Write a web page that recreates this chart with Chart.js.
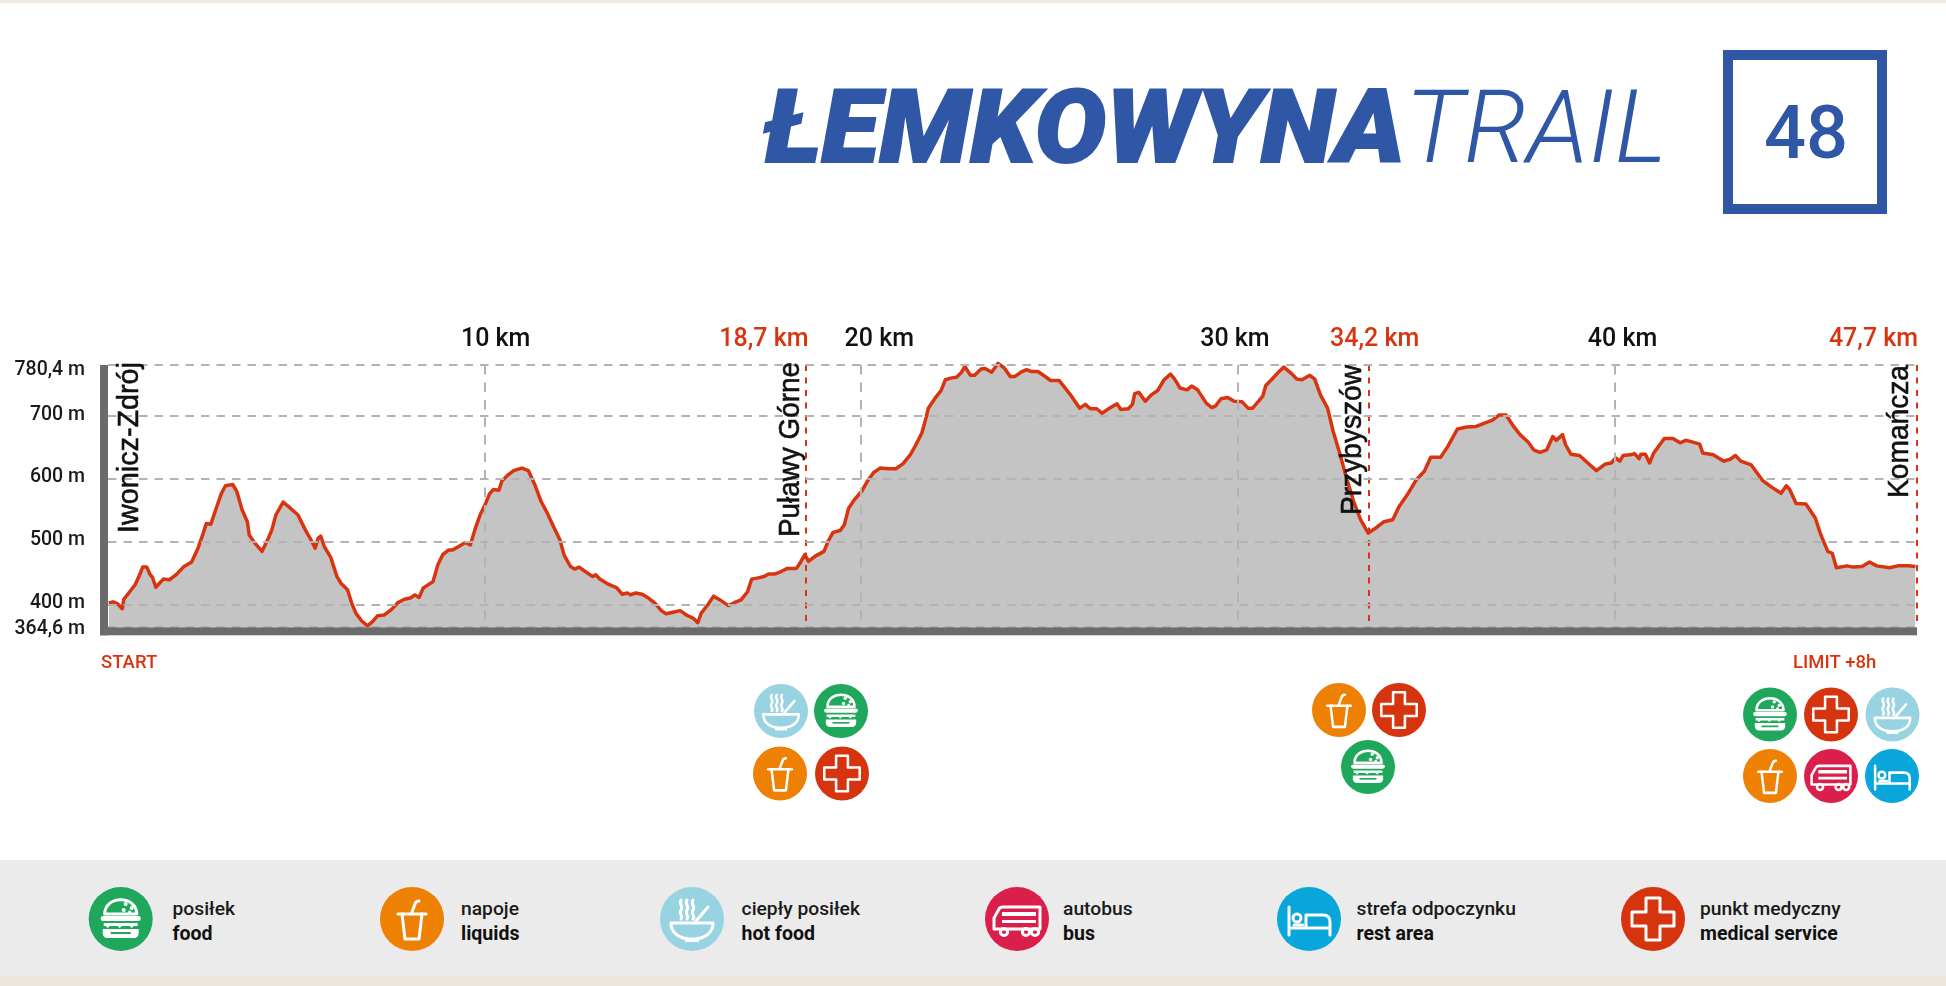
<!DOCTYPE html>
<html lang="pl">
<head>
<meta charset="utf-8">
<title>Łemkowyna Trail 48</title>
<script src="https://cdn.jsdelivr.net/npm/chart.js@4"></script>
<style>
    html, body { margin: 0; padding: 0; background: #fff; overflow: hidden; }
    #page { position: relative; width: 1946px; height: 986px; }
    #page svg, #page canvas { position: absolute; left: 0; top: 0; }
    .legendTop { font: 500 19.25px Roboto, sans-serif; fill: #1a1a1a; }
    .legendBottom { font: 700 19.5px Roboto, sans-serif; fill: #111; }
    .glyph { fill: none; stroke: #fff; stroke-width: 3; stroke-linecap: round; stroke-linejoin: round; }
    .solid { fill: #fff; stroke: none; }
</style>
</head>
<body>
<div id="page">
    <svg id="overlay" width="1946" height="986" viewBox="0 0 1946 986">
        <defs>
            <symbol id="burger" viewBox="0 0 64 64">
                <g transform="translate(0,-3)">
                    <path class="glyph" d="M16 30c0-19 32-19 32 0z"/>
                    <circle class="solid" cx="37" cy="20" r="2"/><circle class="solid" cx="43" cy="24" r="2"/>
                    <circle class="solid" cx="35" cy="26" r="2"/><circle class="solid" cx="41" cy="28" r="1.6"/>
                    <rect class="solid" x="12" y="32" width="40" height="5" rx="2.5"/>
                    <path class="solid" d="M15 39h34v3h-4l-2 2-2-2h-8l-2 2-2-2h-8l-2 2-2-2h-2z"/>
                    <path class="solid" d="M14 45h36v4c0 3-2 5-5 5H19c-3 0-5-2-5-5z"/>
                    <path d="M22 49h20" stroke="#1fa85c" stroke-width="2"/>
                </g>
            </symbol>
            <symbol id="cup" viewBox="0 0 64 64">
                <path class="glyph" d="M32 25l3-8q1-3 4-3"/>
                <path class="glyph" d="M18 27h28"/>
                <path class="glyph" d="M22 27l3 25h14l3-25"/>
            </symbol>
            <symbol id="bowl" viewBox="0 0 64 64">
                <path class="glyph" d="M21 13c-3 4 3 6 0 10s3 6 0 9M27 13c-3 4 3 6 0 10s3 6 0 9M33 13c-3 4 3 6 0 10s3 6 0 9" stroke-width="2"/>
                <path class="glyph" d="M36 34L48 20" stroke-width="4.5"/>
                <path class="glyph" d="M11 36h42c0 10-8 16-21 16S11 46 11 36z"/>
                <path class="solid" d="M25 52h14v3H25z"/>
            </symbol>
            <symbol id="bus" viewBox="0 0 64 64">
                <path class="glyph" d="M9 31l5-9q1-2 4-2h37v22H9z"/>
                <path class="solid" d="M17 25h34v4H17zM17 33h34v3H17z"/>
                <circle class="glyph" cx="19" cy="45" r="3.6"/>
                <circle class="glyph" cx="41" cy="45" r="3.6"/>
                <circle class="glyph" cx="50" cy="45" r="3.6"/>
            </symbol>
            <symbol id="bed" viewBox="0 0 64 64">
                <path class="glyph" d="M12 20v28M12 41h41v7M53 41v-6q0-7-7-7H29v13"/>
                <circle class="glyph" cx="20" cy="31" r="4" stroke-width="2.5"/>
                <path class="glyph" d="M17 38h9" stroke-width="2"/>
            </symbol>
            <symbol id="cross" viewBox="0 0 64 64">
                <path class="glyph" d="M25 11h14v14h14v14H39v14H25V39H11V25h14z" stroke-width="3.5"/>
            </symbol>
        </defs>

        <rect x="0" y="0" width="1946" height="3" fill="#efe9e1"/>
        <rect x="0" y="860" width="1946" height="116" fill="#ebebeb"/>
        <rect x="0" y="976" width="1946" height="10" fill="#ede6dd"/>

        <text x="763" y="162" textLength="642" lengthAdjust="spacingAndGlyphs" stroke="#2f57a6" stroke-width="2"
              font-family="Roboto" font-weight="900" font-style="italic" font-size="101" fill="#2f57a6">ŁEMKOWYNA</text>
        <text x="1405" y="162" textLength="262" lengthAdjust="spacingAndGlyphs"
              font-family="Roboto" font-weight="300" font-style="italic" font-size="101" fill="#2f57a6">TRAIL</text>
        <rect x="1728" y="55" width="154" height="154" fill="none" stroke="#2f57a6" stroke-width="10"/>
        <text x="1806" y="158" text-anchor="middle" font-family="Roboto" font-weight="500" font-size="74" fill="#2f57a6">48</text>
    </svg>
    <canvas id="profileChart" width="1946" height="986"></canvas>
</div>

<script>
// Elevation profile
const kmPoints = [
    0.02, 0.13, 0.25, 0.38, 0.42, 0.55, 0.72, 0.85, 0.92, 1.03, 1.12, 1.18, 1.27, 1.36, 1.47, 1.63, 1.81, 2.00, 2.22, 2.39,
    2.53, 2.61, 2.73, 2.86, 3.01, 3.12, 3.31, 3.42, 3.56, 3.70, 3.75, 3.90, 4.09, 4.26, 4.35, 4.46, 4.65, 4.85, 5.04, 5.24,
    5.41, 5.50, 5.58, 5.65, 5.74, 5.91, 6.08, 6.19, 6.36, 6.47, 6.58, 6.73, 6.89, 7.03, 7.16, 7.33, 7.53, 7.70, 7.87, 8.03,
    8.15, 8.26, 8.37, 8.63, 8.76, 8.89, 9.04, 9.15, 9.32, 9.49, 9.62, 9.74, 9.88, 9.99, 10.13, 10.23, 10.38, 10.46, 10.60, 10.77,
    10.99, 11.16, 11.33, 11.50, 11.66, 11.83, 12.00, 12.11, 12.28, 12.39, 12.51, 12.67, 12.87, 12.95, 13.06, 13.28, 13.51, 13.65, 13.79, 13.87,
    14.01, 14.18, 14.35, 14.52, 14.69, 14.82, 14.97, 15.19, 15.36, 15.54, 15.66, 15.75, 15.92, 16.08, 16.25, 16.47, 16.64, 16.81, 16.98, 17.09,
    17.26, 17.42, 17.54, 17.70, 17.87, 18.04, 18.28, 18.40, 18.50, 18.60, 18.77, 19.01, 19.12, 19.25, 19.44, 19.55, 19.66, 19.83, 20.01, 20.16,
    20.33, 20.50, 20.72, 20.92, 21.11, 21.30, 21.45, 21.61, 21.73, 21.78, 21.95, 22.12, 22.23, 22.40, 22.53, 22.65, 22.75, 22.90, 23.01, 23.18,
    23.29, 23.46, 23.63, 23.79, 23.96, 24.07, 24.24, 24.39, 24.52, 24.69, 24.91, 25.02, 25.25, 25.41, 25.58, 25.80, 25.95, 26.08, 26.25, 26.39,
    26.59, 26.79, 26.89, 27.09, 27.20, 27.26, 27.37, 27.54, 27.70, 27.87, 28.04, 28.21, 28.32, 28.46, 28.65, 28.77, 28.93, 29.16, 29.30, 29.40,
    29.55, 29.73, 29.90, 30.11, 30.27, 30.39, 30.55, 30.66, 30.74, 30.89, 31.06, 31.22, 31.40, 31.57, 31.70, 31.91, 32.04, 32.19, 32.38, 32.53,
    32.70, 32.87, 33.09, 33.26, 33.46, 33.66, 33.88, 34.11, 34.28, 34.50, 34.73, 34.95, 35.12, 35.38, 35.57, 35.83, 36.08, 36.33, 36.53, 36.76,
    36.93, 37.12, 37.32, 37.49, 37.71, 37.85, 38.02, 38.20, 38.36, 38.45, 38.62, 38.70, 38.84, 39.07, 39.29, 39.52, 39.74, 39.91, 40.03, 40.14,
    40.23, 40.42, 40.53, 40.65, 40.70, 40.82, 40.93, 41.04, 41.32, 41.55, 41.74, 41.89, 42.03, 42.26, 42.34, 42.62, 42.90, 43.07, 43.21, 43.35,
    43.63, 43.92, 44.14, 44.42, 44.56, 44.65, 44.82, 45.08, 45.33, 45.46, 45.66, 45.78, 45.89, 46.17, 46.34, 46.57, 46.77, 46.96, 47.30, 47.52,
    47.80, 47.99
];
const elevation = [
    403, 405, 402, 394, 409, 419, 432, 449, 460, 460, 448, 444, 428, 434, 441, 440, 448, 460, 468, 490,
    514, 529, 528, 551, 577, 589, 591, 580, 551, 532, 511, 498, 485, 506, 519, 543, 563, 553, 543, 519,
    501, 490, 506, 509, 493, 476, 445, 434, 424, 403, 387, 375, 367, 374, 383, 384, 393, 404, 409, 411,
    416, 412, 427, 437, 464, 480, 487, 487, 493, 499, 495, 519, 543, 556, 576, 583, 582, 597, 605, 613,
    617, 613, 591, 564, 546, 524, 503, 479, 461, 457, 460, 453, 445, 448, 441, 433, 427, 417, 419, 416,
    419, 417, 411, 403, 391, 386, 388, 391, 384, 379, 372, 387, 400, 414, 408, 399, 404, 408, 421, 441,
    443, 445, 449, 449, 453, 458, 458, 469, 480, 469, 477, 485, 501, 515, 518, 527, 553, 568, 580, 596,
    610, 617, 616, 616, 624, 638, 654, 673, 699, 712, 727, 740, 757, 760, 761, 768, 778, 764, 764, 774,
    775, 769, 783, 776, 762, 762, 769, 773, 770, 770, 761, 756, 756, 744, 731, 712, 718, 711, 711, 704,
    712, 719, 710, 711, 718, 735, 737, 723, 733, 740, 757, 766, 758, 744, 741, 747, 741, 720, 713, 715,
    727, 729, 723, 722, 712, 712, 723, 731, 748, 757, 768, 777, 768, 758, 757, 764, 758, 733, 712, 675,
    641, 604, 561, 535, 514, 522, 532, 535, 556, 575, 598, 612, 634, 634, 651, 679, 682, 683, 688, 693,
    701, 701, 683, 670, 658, 646, 642, 646, 667, 661, 670, 654, 639, 637, 625, 613, 623, 625, 633, 628,
    637, 638, 640, 632, 639, 639, 625, 641, 664, 664, 657, 661, 659, 655, 641, 638, 628, 631, 637, 628,
    622, 598, 588, 577, 589, 583, 561, 560, 538, 514, 485, 482, 459, 462, 460, 461, 468, 462, 459, 462,
    462, 461
];

// Axis ticks; the marker lines sit a little off their labels in the original
const elevationTicks = [364.6, 400, 500, 600, 700, 780.4];
const elevationLabels = ['364,6 m', '400 m', '500 m', '600 m', '700 m', '780,4 m'];
const kmTicks = [10, 18.53, 20, 30, 33.47, 40, 48.03];
const kmLabels = ['10 km', '18,7 km', '20 km', '30 km', '34,2 km', '40 km', '47,7 km'];
const checkpointLabels = ['18,7 km', '34,2 km', '47,7 km'];

// Place names written along the marker lines
const stationNames = ['Iwonicz-Zdrój', 'Puławy Górne', 'Przybyszów', 'Komańcza'];

// Service icons per stop, then the legend
const legendIcons = ['burger', 'cup', 'bowl', 'bus', 'bed', 'cross'];
const legendTop = ['posiłek', 'napoje', 'ciepły posiłek', 'autobus', 'strefa odpoczynku', 'punkt medyczny'];
const legendBottom = ['food', 'liquids', 'hot food', 'bus', 'rest area', 'medical service'];

const RED = '#d9340f';
const GREY = '#b3b3b3';
const BAR = '#6b6b6b';

const iconColors = { burger: '#1fa85c', cup: '#ee8003', bowl: '#97d3e0', bus: '#d91f4a', bed: '#09a6dc', cross: '#d5340f' };

// Page positions for things outside the chart
const legendIconX = [120.7, 412, 692, 1017, 1309, 1653];
const legendTextX = [172.5, 461, 741.6, 1063, 1356.5, 1700];
const stopIcons = [
    ['bowl', 781, 711], ['burger', 841, 711], ['cup', 780, 773.5], ['cross', 842, 773.5],
    ['cup', 1339, 710], ['cross', 1399, 710], ['burger', 1368, 767],
    ['burger', 1770, 714.5], ['cross', 1831, 714.5], ['bowl', 1892.5, 714.5],
    ['cup', 1770, 776], ['bus', 1831, 776], ['bed', 1892, 776]
];

// Label shifts from the default tick position, in pixels
const kmLabelShift = { '10 km': 11, '18,7 km': -42, '20 km': 18, '30 km': -3, '34,2 km': 6, '40 km': 8, '47,7 km': -43.5 };
const elevationLabelShift = { '364,6 m': 2, '400 m': -2, '500 m': -2, '600 m': -1.5, '700 m': -1, '780,4 m': 5 };

// Where the rotated names start: baseline x, bottom y, squeezed length
const stationBaseline = [138, 799, 1361, 1908];
const stationBottom = [533, 537, 515, 498];
const stationMaxLength = [171, 175, 150, 133];

function addIcon(svg, name, cx, cy, size) {
    const NS = 'http://www.w3.org/2000/svg';
    const circle = document.createElementNS(NS, 'circle');
    circle.setAttribute('cx', cx);
    circle.setAttribute('cy', cy);
    circle.setAttribute('r', size / 2);
    circle.setAttribute('fill', iconColors[name]);
    svg.appendChild(circle);

    const use = document.createElementNS(NS, 'use');
    use.setAttribute('href', '#' + name);
    use.setAttribute('x', cx - size / 2);
    use.setAttribute('y', cy - size / 2);
    use.setAttribute('width', size);
    use.setAttribute('height', size);
    svg.appendChild(use);
}

function addLegendText(svg, text, x, y, className) {
    const label = document.createElementNS('http://www.w3.org/2000/svg', 'text');
    label.setAttribute('x', x);
    label.setAttribute('y', y);
    label.setAttribute('class', className);
    label.textContent = text;
    svg.appendChild(label);
}

function drawOverlay() {
    const svg = document.getElementById('overlay');

    legendIcons.forEach((name, i) => {
        addIcon(svg, name, legendIconX[i], 919, 64);
        addLegendText(svg, legendTop[i], legendTextX[i], 915, 'legendTop');
        addLegendText(svg, legendBottom[i], legendTextX[i], 939.5, 'legendBottom');
    });

    stopIcons.forEach(stop => addIcon(svg, stop[0], stop[1], stop[2], 54));
}

// Thick grey axis bars, station names and the START / LIMIT notes
const profileDecor = {
    id: 'profileDecor',
    afterUpdate(chart) {
        chart.scales.x.getLabelItems().forEach(item => {
            item.options.translation[0] += kmLabelShift[item.label] || 0;
        });
        chart.scales.y.getLabelItems().forEach(item => {
            item.options.translation[1] += elevationLabelShift[item.label] || 0;
        });
    },
    afterDraw(chart) {
        const ctx = chart.ctx;
        const area = chart.chartArea;

        ctx.save();
        ctx.fillStyle = BAR;
        ctx.fillRect(area.left - 8, area.top, 8, area.bottom - area.top + 8);
        ctx.fillRect(area.left - 8, area.bottom, area.right - area.left + 8, 8);

        ctx.fillStyle = '#111';
        ctx.strokeStyle = '#111';
        ctx.lineWidth = 0.6;
        ctx.font = '30px "Liberation Sans"';
        ctx.textBaseline = 'alphabetic';
        ctx.textAlign = 'left';
        stationNames.forEach((name, i) => {
            ctx.save();
            ctx.translate(stationBaseline[i], stationBottom[i]);
            ctx.rotate(-Math.PI / 2);
            ctx.fillText(name, 0, 0, stationMaxLength[i]);
            ctx.strokeText(name, 0, 0, stationMaxLength[i]);
            ctx.restore();
        });

        ctx.fillStyle = RED;
        ctx.font = '500 18.5px Roboto';
        ctx.textBaseline = 'middle';
        ctx.fillText('START', 101, 663);
        ctx.fillText('LIMIT +8h', 1793, 663);
        ctx.restore();
    }
};

function isCheckpoint(context) {
    return context.tick && checkpointLabels.includes(kmLabels[kmTicks.indexOf(context.tick.value)]);
}

function drawChart() {
    const ctx = document.getElementById('profileChart').getContext('2d');

    window.profileChart = new Chart(ctx, {
        type: 'line',
        data: {
            datasets: [{
                data: kmPoints.map((km, i) => ({ x: km, y: elevation[i] })),
                borderColor: RED,
                borderWidth: 3.5,
                borderJoinStyle: 'round',
                backgroundColor: '#c4c4c4',
                fill: 'start',
                pointRadius: 0,
                tension: 0,
                clip: false
            }]
        },
        options: {
            responsive: false,
            animation: false,
            layout: {
                padding: { left: 0, top: 305, right: 29, bottom: 358.7 }
            },
            plugins: {
                legend: { display: false },
                tooltip: { enabled: false }
            },
            scales: {
                x: {
                    type: 'linear',
                    position: 'top',
                    min: 0,
                    max: 48.03,
                    afterBuildTicks(scale) {
                        scale.ticks = kmTicks.map(value => ({ value: value }));
                    },
                    afterFit(scale) {
                        scale.height = 60;
                        scale.paddingLeft = 0;
                        scale.paddingRight = 0;
                    },
                    ticks: {
                        autoSkip: false,
                        maxRotation: 0,
                        padding: 10,
                        color: context => isCheckpoint(context) ? RED : '#111',
                        font: { family: 'Roboto', size: 25, weight: '500' },
                        callback: value => kmLabels[kmTicks.indexOf(value)]
                    },
                    grid: {
                        z: 1,
                        drawTicks: false,
                        color: context => isCheckpoint(context) ? RED : GREY,
                        lineWidth: 2
                    },
                    border: { display: false, dash: context => isCheckpoint(context) ? [6, 6.5] : [9.5, 8] }
                },
                y: {
                    min: 364.6,
                    max: 780.4,
                    afterBuildTicks(scale) {
                        scale.ticks = elevationTicks.map(value => ({ value: value }));
                    },
                    afterFit(scale) {
                        scale.width = 108;
                        scale.paddingTop = 0;
                        scale.paddingBottom = 0;
                    },
                    ticks: {
                        autoSkip: false,
                        padding: 23,
                        color: '#1a1a1a',
                        font: { family: 'Roboto', size: 19.5, weight: '500' },
                        callback: value => elevationLabels[elevationTicks.indexOf(value)]
                    },
                    grid: {
                        z: 1,
                        drawTicks: false,
                        color: GREY,
                        lineWidth: 2
                    },
                    border: { display: false, dash: [8.5, 7] }
                }
            }
        },
        plugins: [profileDecor]
    });
}

drawOverlay();
drawChart();
</script>
</body>
</html>
